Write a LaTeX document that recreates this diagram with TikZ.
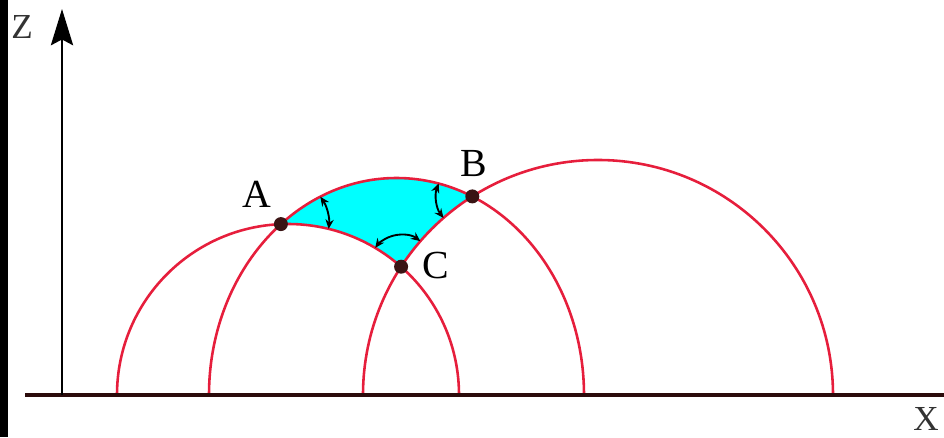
\documentclass[tikz,border=0pt]{standalone}
\usepackage{fontspec}
\setmainfont{Liberation Serif}
\usetikzlibrary{arrows.meta, positioning, calc}
\definecolor{arcred}{HTML}{E61E3C}
\definecolor{dotbrown}{HTML}{3A1414}
\definecolor{axisdark}{HTML}{2B0B0B}
\definecolor{region}{HTML}{00FFFF}
\tikzset{
  curve/.style={draw=arcred, line width=2.2pt},
  point/.style={circle, fill=dotbrown, inner sep=0pt, minimum size=0.42cm},
  lbl/.style={inner sep=0pt, font=\fontsize{34}{40}\selectfont},
  axlbl/.style={inner sep=0pt, text=black!80, font=\fontsize{30}{36}\selectfont},
  angarrow/.style={{Stealth[length=8pt,width=7pt]}-{Stealth[length=8pt,width=7pt]}, line width=1.6pt},
  axisline/.style={draw=axisdark, line width=3pt},
  zarrow/.style={-{Stealth[length=31pt,width=19pt,inset=5pt]}, line width=1.5pt}
}

\begin{document}
\begin{tikzpicture}[x=0.03cm, y=0.03cm]
\useasboundingbox (0,-42) rectangle (944,395);
\fill (0,-42) rectangle (8,395);

\coordinate (xstart) at (25,0);
\coordinate (xend)   at (944,0);
\coordinate (zfoot)  at (62,0);
\coordinate (ztip)   at (62,386);
\coordinate (vA) at (280.9,170.9);
\coordinate (vB) at (472.3,198.6);
\coordinate (vC) at (401.1,128.3);

\fill [region] (vA) arc[start angle=128.06, end angle=66.15, x radius=187.5, y radius=217]
  arc[start angle=122.33, end angle=146.9, radius=235]
  arc[start angle=48.6, end angle=92.35, radius=171] -- cycle;

\draw [curve] (117,0) arc[start angle=180, end angle=0, radius=171];
\draw [curve] (209,0) arc[start angle=180, end angle=0, x radius=187.5, y radius=217];
\draw [curve] (363,0) arc[start angle=180, end angle=0, radius=235];

\draw [angarrow] (vA) ++(34.8:48) arc[start angle=34.8, end angle=-5.7, radius=48];
\draw [angarrow] (vB) ++(159:36) arc[start angle=159, end angle=217, radius=36];
\draw [angarrow] (vC) ++(53:32) arc[start angle=53, end angle=144, radius=32];

\node (ptA) [point] at (vA) {};
\node (ptB) [point] at (vB) {};
\node (ptC) [point] at (vC) {};

\draw [axisline] (xstart) -- (xend);
\draw [zarrow] (zfoot) -- (ztip);

\node (labA) [lbl] at (257,201) {A};
\node (labB) [lbl] at (473.5,231) {B};
\node (labC) [lbl] at (436,129) {C};
\node (labZ) [axlbl] at (22,368) {Z};
\node (labX) [axlbl] at (926,-24) {X};
\end{tikzpicture}
\end{document}
